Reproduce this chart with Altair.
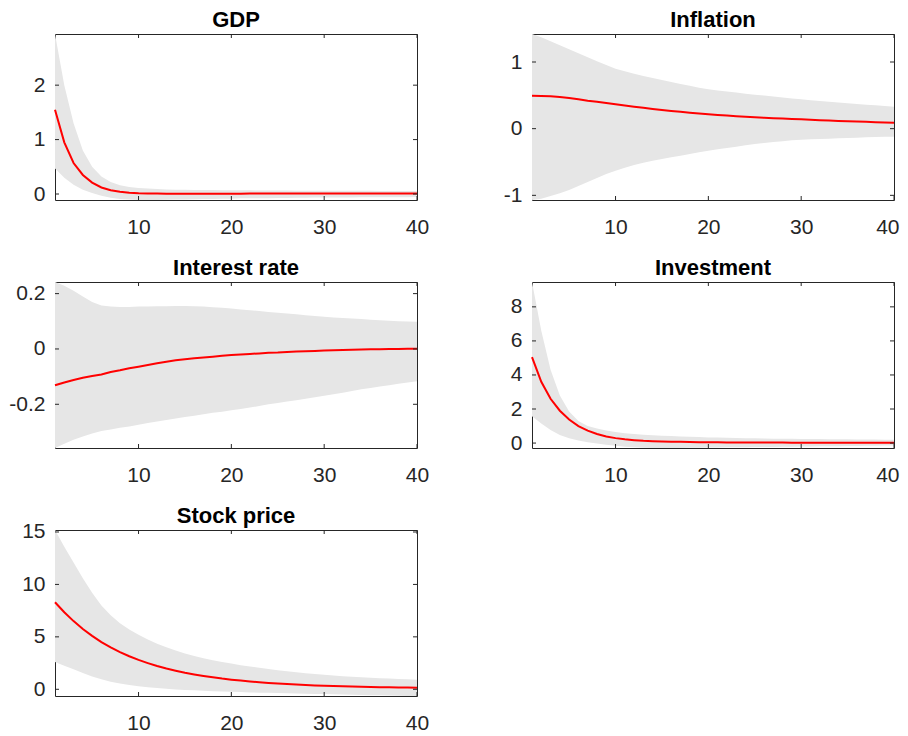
import altair as alt
import pandas as pd

periods = list(range(1, 41))
titles = ["GDP", "Inflation", "Interest rate", "Investment", "Stock price"]

gdp_med = [1.55, 0.95, 0.57, 0.35, 0.21, 0.12, 0.07, 0.04, 0.025, 0.015,
           0.01, 0.008, 0.006, 0.005, 0.005, 0.005, 0.005, 0.006, 0.006, 0.007,
           0.007, 0.008, 0.008, 0.008, 0.009, 0.009, 0.009, 0.01, 0.01, 0.01,
           0.01, 0.01, 0.01, 0.01, 0.01, 0.01, 0.01, 0.01, 0.01, 0.01]
gdp_hi = [2.94, 2.0, 1.3, 0.8, 0.5, 0.32, 0.22, 0.16, 0.13, 0.11,
          0.1, 0.09, 0.085, 0.08, 0.078, 0.076, 0.074, 0.072, 0.07, 0.069,
          0.068, 0.067, 0.066, 0.065, 0.064, 0.063, 0.062, 0.062, 0.061, 0.06,
          0.06, 0.059, 0.059, 0.058, 0.058, 0.057, 0.057, 0.056, 0.056, 0.055]
gdp_lo = [0.47, 0.3, 0.17, 0.08, 0.02, -0.03, -0.07, -0.09, -0.1, -0.11,
          -0.11, -0.11, -0.105, -0.1, -0.1, -0.095, -0.09, -0.09, -0.085, -0.085,
          -0.08, -0.08, -0.078, -0.076, -0.074, -0.072, -0.07, -0.068, -0.066, -0.065,
          -0.064, -0.063, -0.062, -0.061, -0.06, -0.06, -0.059, -0.058, -0.058, -0.057]

infl_med = [0.495, 0.49, 0.485, 0.475, 0.46, 0.44, 0.42, 0.405, 0.385, 0.365,
            0.348, 0.33, 0.313, 0.296, 0.28, 0.266, 0.252, 0.239, 0.227, 0.215,
            0.205, 0.196, 0.187, 0.178, 0.17, 0.164, 0.158, 0.152, 0.146, 0.14,
            0.134, 0.128, 0.122, 0.116, 0.11, 0.106, 0.102, 0.098, 0.094, 0.09]
infl_hi = [1.42, 1.37, 1.31, 1.25, 1.19, 1.13, 1.07, 1.01, 0.955, 0.9,
           0.86, 0.825, 0.79, 0.76, 0.73, 0.7, 0.67, 0.645, 0.615, 0.59,
           0.573, 0.557, 0.541, 0.525, 0.51, 0.496, 0.482, 0.468, 0.454, 0.44,
           0.428, 0.416, 0.404, 0.392, 0.38, 0.37, 0.36, 0.35, 0.34, 0.33]
infl_lo = [-1.07, -1.05, -1.01, -0.97, -0.92, -0.86, -0.8, -0.74, -0.68, -0.63,
           -0.585, -0.545, -0.51, -0.48, -0.455, -0.43, -0.405, -0.38, -0.355, -0.33,
           -0.31, -0.29, -0.27, -0.25, -0.23, -0.215, -0.2, -0.19, -0.175, -0.165,
           -0.16, -0.155, -0.15, -0.145, -0.14, -0.135, -0.13, -0.125, -0.122, -0.12]

rate_med = [-0.131, -0.121, -0.112, -0.104, -0.098, -0.092, -0.083, -0.077, -0.07, -0.064,
            -0.058, -0.052, -0.046, -0.041, -0.037, -0.034, -0.031, -0.028, -0.025, -0.022,
            -0.02, -0.018, -0.016, -0.014, -0.013, -0.011, -0.009, -0.008, -0.007, -0.006,
            -0.005, -0.004, -0.003, -0.002, -0.001, -0.001, 0.0, 0.0, 0.001, 0.001]
rate_hi = [0.242, 0.228, 0.21, 0.19, 0.17, 0.157, 0.153, 0.152, 0.152, 0.153,
           0.153, 0.154, 0.154, 0.155, 0.155, 0.154, 0.153, 0.151, 0.149, 0.146,
           0.143, 0.14, 0.137, 0.134, 0.131, 0.128, 0.125, 0.122, 0.119, 0.116,
           0.114, 0.112, 0.11, 0.108, 0.106, 0.104, 0.102, 0.1, 0.099, 0.098]
rate_lo = [-0.358, -0.343, -0.328, -0.316, -0.306, -0.297, -0.291, -0.285, -0.28, -0.274,
           -0.268, -0.262, -0.257, -0.251, -0.246, -0.241, -0.236, -0.231, -0.227, -0.222,
           -0.217, -0.212, -0.206, -0.2, -0.195, -0.19, -0.185, -0.18, -0.175, -0.169,
           -0.164, -0.158, -0.152, -0.146, -0.141, -0.136, -0.131, -0.126, -0.121, -0.117]

inv_med = [5.05, 3.6, 2.6, 1.9, 1.38, 1.0, 0.73, 0.53, 0.39, 0.29,
           0.22, 0.17, 0.13, 0.11, 0.09, 0.08, 0.07, 0.06, 0.055, 0.05,
           0.045, 0.04, 0.038, 0.035, 0.032, 0.03, 0.028, 0.026, 0.025, 0.024,
           0.023, 0.022, 0.021, 0.02, 0.02, 0.019, 0.019, 0.018, 0.018, 0.017]
inv_hi = [9.46, 6.6, 4.3, 2.8, 1.85, 1.3, 1.0, 0.85, 0.74, 0.65,
          0.58, 0.53, 0.49, 0.46, 0.43, 0.41, 0.39, 0.37, 0.35, 0.33,
          0.32, 0.31, 0.3, 0.29, 0.28, 0.27, 0.26, 0.255, 0.25, 0.245,
          0.24, 0.235, 0.23, 0.225, 0.22, 0.215, 0.21, 0.205, 0.2, 0.195]
inv_lo = [1.57, 1.15, 0.76, 0.48, 0.29, 0.15, 0.05, -0.03, -0.1, -0.16,
          -0.21, -0.25, -0.27, -0.285, -0.29, -0.29, -0.285, -0.28, -0.27, -0.26,
          -0.255, -0.25, -0.245, -0.24, -0.235, -0.23, -0.225, -0.22, -0.21, -0.2,
          -0.195, -0.19, -0.185, -0.18, -0.175, -0.17, -0.16, -0.155, -0.15, -0.14]

stock_med = [8.3, 7.35, 6.5, 5.75, 5.1, 4.5, 4.0, 3.55, 3.15, 2.8,
             2.5, 2.22, 1.98, 1.77, 1.58, 1.42, 1.27, 1.14, 1.02, 0.92,
             0.83, 0.75, 0.68, 0.61, 0.55, 0.5, 0.45, 0.41, 0.37, 0.34,
             0.31, 0.28, 0.26, 0.24, 0.22, 0.2, 0.19, 0.17, 0.16, 0.15]
stock_hi = [15.19, 13.6, 12.1, 10.6, 9.2, 8.0, 7.05, 6.3, 5.7, 5.2,
            4.75, 4.35, 4.0, 3.7, 3.42, 3.18, 2.97, 2.78, 2.6, 2.45,
            2.3, 2.17, 2.05, 1.93, 1.82, 1.72, 1.62, 1.53, 1.45, 1.38,
            1.31, 1.25, 1.2, 1.15, 1.1, 1.06, 1.02, 0.98, 0.95, 0.92]
stock_lo = [2.6, 2.25, 1.9, 1.55, 1.22, 0.95, 0.73, 0.56, 0.42, 0.3,
            0.2, 0.12, 0.05, -0.01, -0.06, -0.1, -0.14, -0.18, -0.21, -0.24,
            -0.27, -0.3, -0.32, -0.34, -0.36, -0.38, -0.4, -0.42, -0.44, -0.46,
            -0.48, -0.5, -0.52, -0.54, -0.56, -0.58, -0.6, -0.61, -0.63, -0.64]

x_ticks = [10, 20, 30, 40]
gdp_yticks = [0, 1, 2]
infl_yticks = [-1, 0, 1]
rate_yticks = [-0.2, 0, 0.2]
inv_yticks = [0, 2, 4, 6, 8]
stock_yticks = [0, 5, 10, 15]

W, H = 362, 166
FONT = "Liberation Sans"
TXT = "#262626"
TICK = 4
LABEL_SIZE = 21


def panel(title, med, lo, hi, yticks, title_offset=2, right_col=False):
    df = pd.DataFrame({"t": periods, "med": med, "lo": lo, "hi": hi})
    xs = alt.Scale(domain=[1, 40], nice=False, zero=False)
    ys = alt.Scale(domain=[min(lo), max(hi)], nice=False, zero=False)
    if right_col:
        flush = dict(labelFlush=1, labelFlushOffset=5)
    else:
        flush = dict(labelFlush=False)
    xaxis = alt.Axis(values=x_ticks, title=None, grid=False, domain=False, ticks=False,
                     labelPadding=16, labelFontSize=LABEL_SIZE,
                     labelColor=TXT, labelFont=FONT, **flush)
    yaxis = alt.Axis(values=yticks, title=None, grid=False, domain=False, ticks=False,
                     labelPadding=10, labelFontSize=LABEL_SIZE, labelColor=TXT, labelFont=FONT,
                     labelExpr="toString(datum.value)", minExtent=45, maxExtent=45)
    base = alt.Chart(df)
    band = base.mark_area(color="#e6e6e6", opacity=1).encode(
        x=alt.X("t:Q", scale=xs, axis=xaxis),
        y=alt.Y("lo:Q", scale=ys, axis=yaxis),
        y2="hi:Q",
    )
    line = base.mark_line(color="#ff0000", strokeWidth=2).encode(
        x=alt.X("t:Q", scale=xs, axis=xaxis),
        y=alt.Y("med:Q", scale=ys, axis=yaxis),
    )
    xt = alt.Chart(pd.DataFrame({"t": x_ticks}))
    top_ticks = xt.mark_rule(color=TXT, strokeWidth=1).encode(
        x=alt.X("t:Q", scale=xs, axis=xaxis), y=alt.value(0), y2=alt.value(TICK))
    bot_ticks = xt.mark_rule(color=TXT, strokeWidth=1).encode(
        x=alt.X("t:Q", scale=xs, axis=xaxis), y=alt.value(H), y2=alt.value(H - TICK))
    yt = alt.Chart(pd.DataFrame({"lo": yticks}))
    left_ticks = yt.mark_rule(color=TXT, strokeWidth=1).encode(
        y=alt.Y("lo:Q", scale=ys, axis=yaxis), x=alt.value(0), x2=alt.value(TICK))
    right_ticks = yt.mark_rule(color=TXT, strokeWidth=1).encode(
        y=alt.Y("lo:Q", scale=ys, axis=yaxis), x=alt.value(W), x2=alt.value(W - TICK))
    return alt.layer(band, line, top_ticks, bot_ticks, left_ticks, right_ticks).properties(
        width=W, height=H,
        title=alt.TitleParams(text=title, fontSize=22, fontWeight="bold", font=FONT,
                              color="#000000", offset=title_offset, frame="group",
                              anchor="middle"),
    )


p1 = panel(titles[0], gdp_med, gdp_lo, gdp_hi, gdp_yticks)
p2 = panel(titles[1], infl_med, infl_lo, infl_hi, infl_yticks, right_col=True)
p3 = panel(titles[2], rate_med, rate_lo, rate_hi, rate_yticks)
p4 = panel(titles[3], inv_med, inv_lo, inv_hi, inv_yticks, right_col=True)
p5 = panel(titles[4], stock_med, stock_lo, stock_hi, stock_yticks, title_offset=-7)

chart = alt.vconcat(
    alt.hconcat(p1, p2, spacing=56),
    alt.hconcat(p3, p4, spacing=56),
    alt.hconcat(p5, spacing=56),
    spacing=18,
).properties(
    padding={"left": 0, "top": 0, "right": 0, "bottom": 0},
    background="white",
).configure_view(stroke=TXT, strokeWidth=1)

chart.save("out.html", embed_options={"renderer": "svg", "actions": False})
